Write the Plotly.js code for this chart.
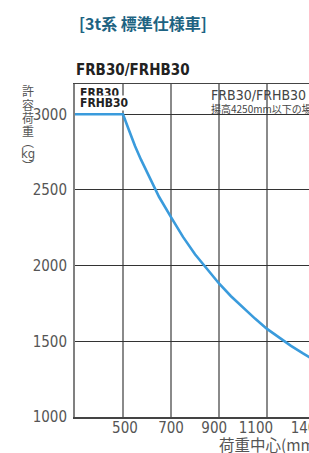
<!DOCTYPE html>
<html>
<head>
<meta charset="utf-8">
<script src="https://cdn.plot.ly/plotly-3.0.1.min.js"></script>
<style>
html,body{margin:0;padding:0;overflow:hidden;background:#fff;}
#chart{width:380px;height:453px;}
</style>
</head>
<body>
<div id="chart"></div>
<script>
// ---- data ----
const loadCenter = [300, 500, 525, 550, 575, 600, 650, 700, 750, 800, 850, 900, 950, 1000, 1050, 1100, 1150, 1200, 1250, 1300, 1350, 1400, 1450, 1500];
const capacity   = [3000, 3000, 2895, 2790, 2700, 2615, 2455, 2320, 2190, 2075, 1975, 1882, 1798, 1722, 1650, 1582, 1525, 1470, 1420, 1372, 1327, 1285, 1245, 1208];
const yTicks = [1000, 1500, 2000, 2500, 3000];
const xGrid = [500, 700, 900, 1100, 1300];
const xTickText = ['500', '700', '900', '1100', '1400'];
const xTickLabelPos = [508, 700, 880, 1054, 1270];

const NARROW = '"Liberation Sans Narrow","DejaVu Sans Condensed","Arial Narrow",sans-serif';
const CJK = '"Noto Sans CJK JP","Noto Sans",sans-serif';

// plot area pixel helpers (left 75, top 84, width 288, height 333)
const px = v => (v - 75) / 288;
const py = v => (417 - v) / 333;

const traces = [
  {x: loadCenter, y: capacity, type: 'scatter', mode: 'lines',
   line: {color: '#3a9bdc', width: 2.6, shape: 'linear'},
   hoverinfo: 'x+y', showlegend: false},
  // empty trace so the label axis (x2) is drawn
  {x: [], y: [], xaxis: 'x2', yaxis: 'y', type: 'scatter', mode: 'lines',
   showlegend: false, hoverinfo: 'skip'}
];

const yTitleChars = [
  ['許', 91], ['容', 104], ['荷', 117], ['重', 130], ['︵', 141], ['kg', 153], ['︶', 165]
];

const annotations = [
  {text: '<b>[3t系 標準仕様車]</b>', xref: 'paper', yref: 'paper', x: px(77), y: py(23.5),
   xanchor: 'left', yanchor: 'middle', showarrow: false,
   font: {family: CJK, size: 16, color: '#1d6382'}},
  {text: '<b>FRB30/FRHB30</b>', xref: 'paper', yref: 'paper', x: px(74), y: py(70),
   xanchor: 'left', yanchor: 'middle', showarrow: false,
   font: {family: NARROW, size: 15, color: '#222'}},
  {text: '<b>FRB30</b>', xref: 'paper', yref: 'paper', x: px(79), y: py(92.5),
   xanchor: 'left', yanchor: 'middle', showarrow: false, borderpad: 0,
   font: {family: NARROW, size: 12, color: '#222'}},
  {text: '<b>FRHB30</b>', xref: 'paper', yref: 'paper', x: px(79), y: py(103.5),
   xanchor: 'left', yanchor: 'middle', showarrow: false, bgcolor: '#fff', borderpad: 0,
   font: {family: NARROW, size: 12, color: '#222'}},
  {text: 'FRB30/FRHB30', xref: 'paper', yref: 'paper', x: px(209), y: py(95),
   xanchor: 'left', yanchor: 'middle', showarrow: false,
   font: {family: NARROW, size: 14, color: '#444'}},
  {text: '揚高4250mm以下の場合', xref: 'paper', yref: 'paper', x: px(209), y: py(108),
   xanchor: 'left', yanchor: 'middle', showarrow: false,
   font: {family: CJK, size: 10, color: '#444'}},
  {text: '荷重中心(mm)', xref: 'paper', yref: 'paper', x: px(217), y: py(444),
   xanchor: 'left', yanchor: 'middle', showarrow: false,
   font: {family: CJK, size: 15.5, color: '#555'}}
];
yTitleChars.forEach(([c, yy]) => annotations.push({
  text: c, xref: 'paper', yref: 'paper', x: px(27.5), y: py(yy),
  xanchor: 'center', yanchor: 'middle', showarrow: false, borderpad: 0,
  font: {family: c === 'kg' ? NARROW : CJK, size: c === 'kg' ? 13 : 12, color: '#555'}
}));

const layout = {
  width: 380, height: 453,
  margin: {l: 75, r: 17, t: 84, b: 36},
  paper_bgcolor: '#fff', plot_bgcolor: '#fff',
  showlegend: false,
  xaxis: {
    range: [300, 1500], tickmode: 'array', tickvals: xGrid,
    showticklabels: false, ticks: '',
    showgrid: true, gridcolor: '#8a8a8a', gridwidth: 1.8,
    zeroline: false, showline: true, linecolor: '#444', linewidth: 1.5, mirror: true
  },
  xaxis2: {
    overlaying: 'x', anchor: 'y', side: 'bottom',
    range: [300, 1500], tickmode: 'array', tickvals: xTickLabelPos, ticktext: xTickText,
    ticks: '', showgrid: false, zeroline: false, showline: false,
    tickfont: {family: NARROW, size: 15, color: '#555'}
  },
  yaxis: {
    range: [1000, 3200], tickmode: 'array', tickvals: yTicks,
    ticks: '', ticklabelstandoff: 3,
    tickfont: {family: NARROW, size: 15, color: '#555'},
    showgrid: true, gridcolor: '#333', gridwidth: 1,
    zeroline: false, showline: true, linecolor: '#808080', linewidth: 2, mirror: true
  },
  shapes: [
    {type: 'rect', xref: 'paper', yref: 'paper', x0: px(205), x1: 1, y0: py(119), y1: py(86.5),
     fillcolor: '#fff', line: {width: 0}, layer: 'between'}
  ],
  annotations: annotations
};

Plotly.newPlot('chart', traces, layout, {displayModeBar: false, staticPlot: true});
</script>
</body>
</html>
